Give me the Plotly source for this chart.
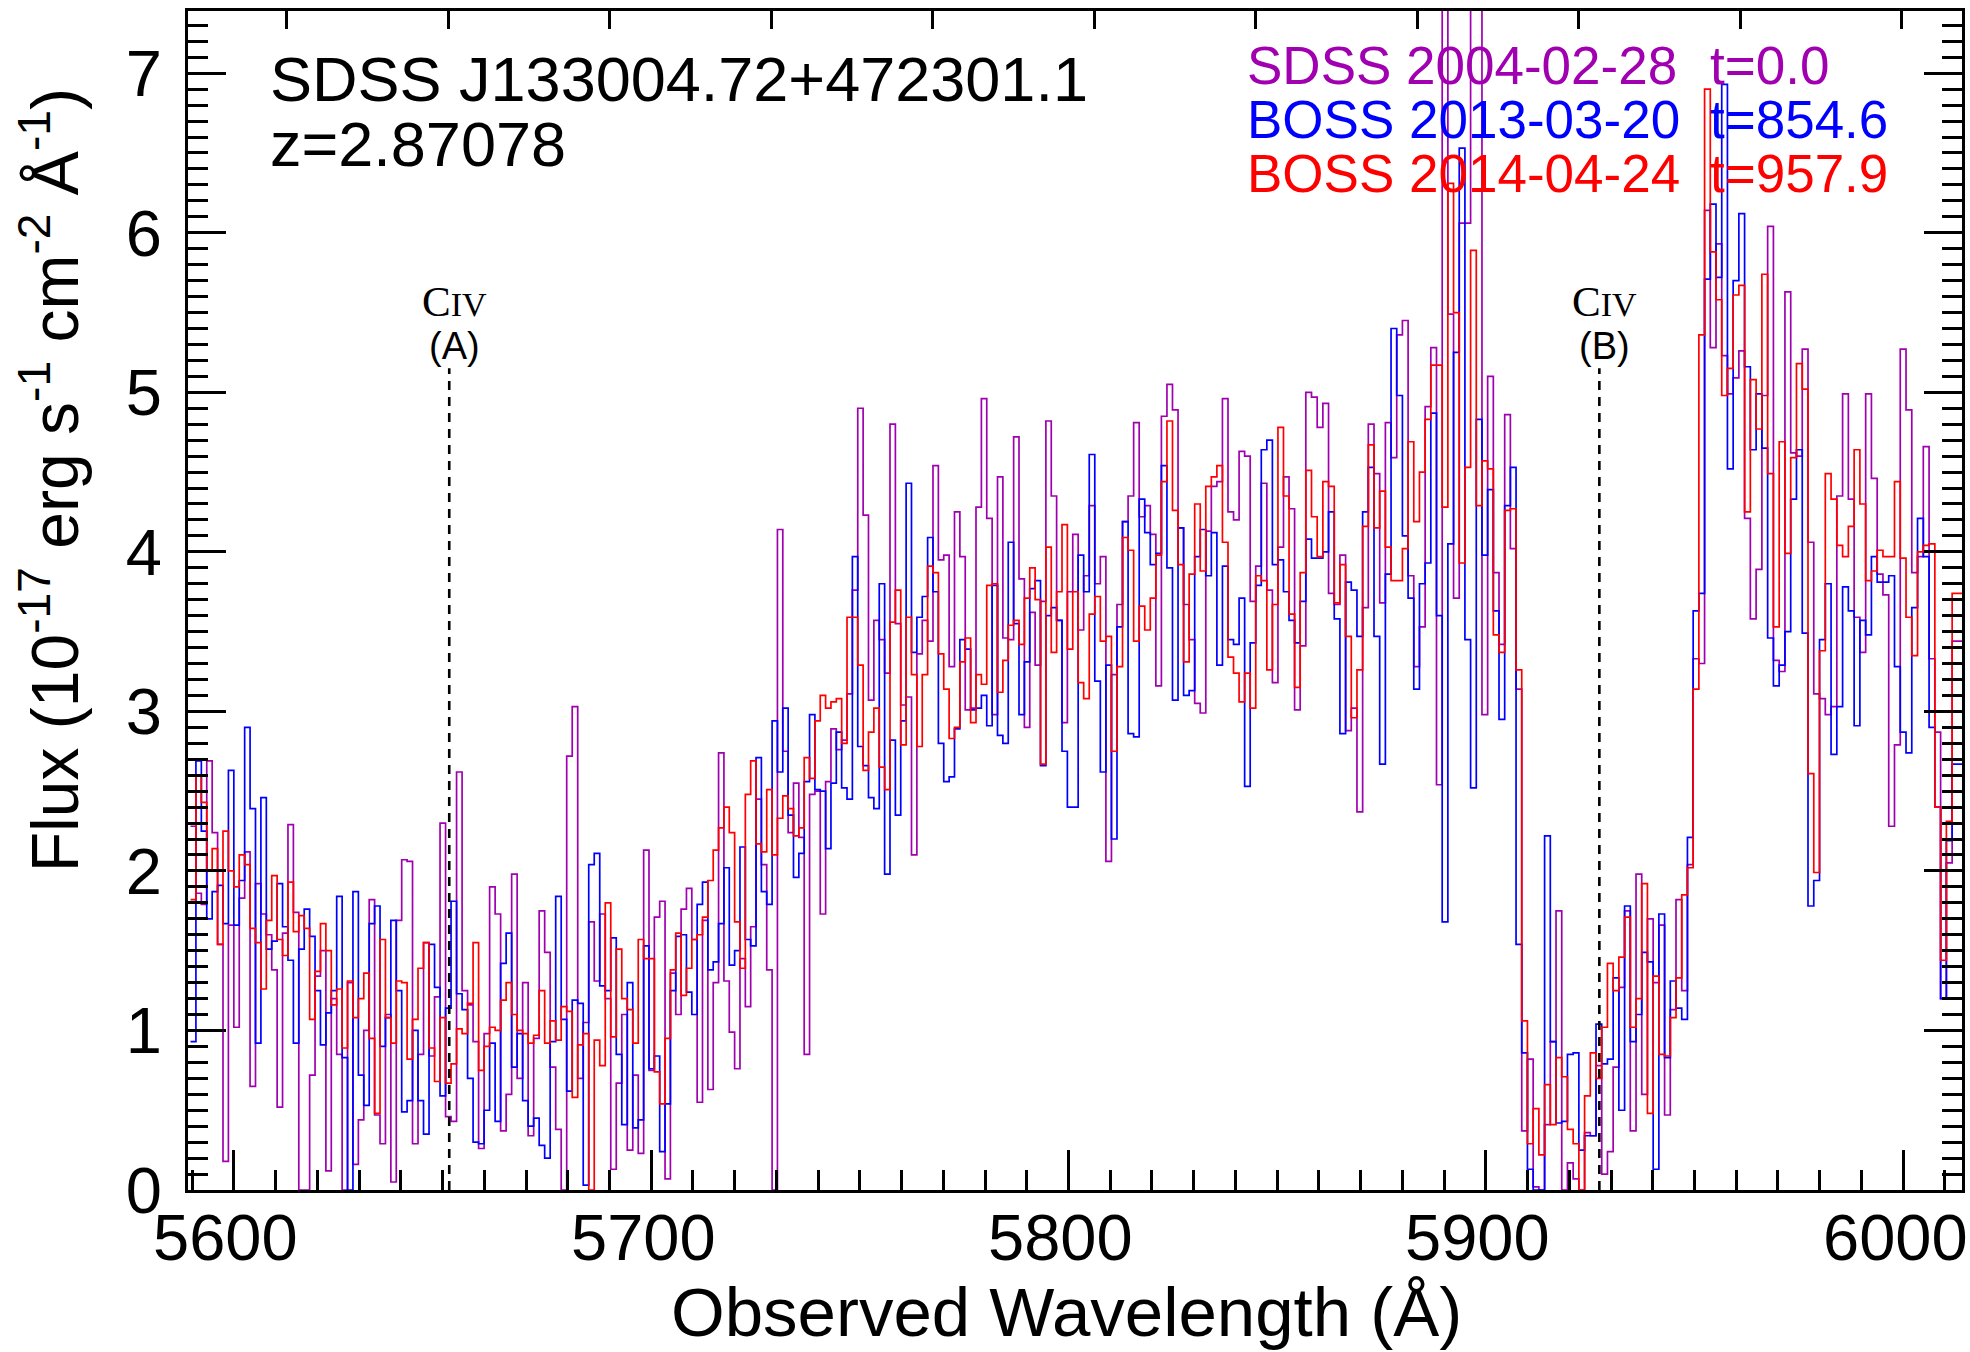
import plotly.graph_objects as go

# ---------------- data ----------------
Z_QSO = 2.87078
X_RANGE = [5589.0, 6014.1]
Y_RANGE = [0.0, 7.39]
X_TICKS = [5600, 5700, 5800, 5900, 6000]
STRIP_EDGES = [5589.6, 5642.8, 5696.9, 5748.2, 5802.3, 5855.5, 5908.6, 5962.0, 6014.5]

SDSS_2004 = [
    [2.28, 1.86, 1.79, 2.69, 2.24, 1.54, 0.18, 1.66, 1.02, 1.83, 2.12, 0.65, 1.92, 1.73, 1.6, 1.38, 0.52, 1.61, 2.29, 1.74, 0.0, 0.0, 0.72, 1.34, 1.5, 0.12, 1.2, 0.85, 0.0, 1.3, 0.16, 0.44, 1.0, 1.82, 0.47, 0.29, 1.1, 0.05, 1.69, 2.07, 2.06],
    [0.29, 0.85, 1.55, 0.84, 1.21, 2.3, 0.46, 0.43, 2.62, 1.25, 1.16, 0.93, 0.26, 0.98, 1.9, 1.73, 0.37, 0.6, 1.98, 0.7, 1.3, 0.34, 0.95, 1.75, 1.49, 0.77, 0.38, 0.0, 2.72, 3.03, 0.7, 1.05, 1.68, 1.31, 1.73, 1.2, 0.13, 0.67, 1.1, 0.25, 0.72],
    [0.23, 2.13, 0.75, 1.71, 1.81, 0.07, 1.36, 1.1, 1.76, 1.89, 1.57, 0.55, 1.69, 0.63, 1.3, 2.74, 1.31, 0.99, 0.76, 1.45, 1.15, 1.65, 2.45, 2.04, 1.38, 0.0, 4.14, 2.75, 2.24, 2.55, 2.21, 0.85, 2.48, 2.5, 1.73, 2.56, 2.89, 2.76, 2.82, 3.11],
    [3.76, 4.9, 4.23, 3.07, 3.57, 3.45, 3.24, 4.8, 3.55, 3.04, 3.09, 2.1, 3.36, 3.57, 3.44, 4.54, 3.95, 3.98, 3.28, 4.25, 3.97, 3.01, 3.02, 4.28, 4.96, 4.21, 2.98, 4.47, 3.46, 3.45, 4.72, 3.83, 2.9, 3.62, 3.29, 3.69, 4.82, 4.35, 3.57, 2.93, 3.75, 4.11],
    [3.51, 3.85, 4.29, 3.8, 3.97, 2.06, 3.23, 3.67, 4.19, 4.35, 4.81, 4.22, 4.29, 4.11, 3.16, 4.85, 5.05, 4.89, 4.15, 3.67, 3.45, 3.05, 2.99, 4.13, 4.41, 4.44, 4.96, 4.25, 4.2, 4.63, 4.6, 3.69, 3.91, 4.43, 3.76, 3.18, 4.03, 4.47, 4.27, 3.01],
    [3.41, 5.0, 4.97, 4.78, 4.93, 3.74, 3.67, 3.98, 2.88, 3.02, 2.37, 3.65, 4.8, 4.49, 3.68, 4.81, 4.59, 5.36, 5.45, 3.85, 3.28, 3.53, 4.91, 5.28, 2.54, 9.5, 5.49, 3.71, 6.06, 6.06, 9.5, 9.5, 2.98, 5.1, 3.87, 3.42, 4.86, 4.02, 3.14],
    [0.37, 0.82, 0.02, 0.0, 0.41, 0.93, 1.75, 0.0, 0.17, 0.07, 0.0, 0.36, 0.34, 0.78, 0.1, 0.24, 0.77, 1.27, 1.75, 0.37, 1.98, 0.6, 1.7, 1.3, 1.66, 0.47, 1.13, 1.82, 1.25, 2.04, 3.33, 3.3, 6.14, 5.28, 5.93, 5.23, 4.99, 5.09, 5.26],
    [4.21, 3.58, 3.89, 4.98, 6.04, 3.32, 3.25, 5.63, 4.62, 4.6, 5.27, 4.06, 3.11, 3.08, 2.98, 3.03, 4.35, 4.99, 4.33, 3.59, 3.37, 4.99, 4.46, 3.86, 3.73, 2.28, 2.79, 5.27, 4.89, 3.87, 3.97, 4.66, 3.33, 2.87, 1.2, 2.05, 3.44, 3.44],
]

BOSS_2013 = [
    [0.93, 2.69, 2.25, 1.7, 1.87, 1.91, 1.67, 2.63, 1.66, 1.94, 2.9, 2.39, 0.92, 2.46, 1.51, 1.56, 1.92, 1.65, 1.44, 0.92, 1.51, 1.76, 1.59, 1.25, 0.91, 1.11, 1.25, 1.84, 0.83, 0.0, 1.87, 0.72, 0.53, 1.67, 1.78, 0.9, 1.08, 1.69, 1.25, 0.49, 0.56],
    [1.0, 0.56, 0.35, 1.54, 1.27, 0.59, 1.14, 1.81, 1.23, 1.13, 0.7, 0.3, 0.29, 0.5, 0.92, 0.43, 1.42, 1.61, 0.77, 0.98, 0.56, 0.4, 0.45, 0.28, 0.2, 0.93, 1.84, 1.07, 0.62, 1.19, 1.17, 0.03, 2.04, 2.11, 1.28, 1.25, 1.58, 0.85, 0.41, 1.3, 0.39],
    [0.44, 1.53, 0.76, 0.84, 0.24, 0.54, 1.25, 1.59, 1.6, 1.24, 1.1, 1.79, 1.93, 1.38, 1.43, 1.67, 2.02, 1.41, 1.5, 2.15, 1.57, 1.53, 2.71, 1.87, 1.79, 2.94, 2.62, 3.02, 2.35, 1.96, 2.11, 2.56, 2.98, 2.51, 2.5, 2.14, 2.55, 2.87, 2.52, 2.45],
    [3.97, 2.78, 2.66, 2.46, 2.39, 3.8, 1.98, 2.82, 2.35, 2.94, 4.43, 3.37, 3.59, 3.72, 4.09, 3.75, 2.8, 2.56, 2.59, 2.89, 3.45, 3.39, 3.01, 3.02, 3.1, 2.91, 3.79, 2.85, 2.8, 4.06, 3.55, 2.98, 3.31, 3.77, 3.82, 2.66, 3.6, 3.65, 3.57, 2.75, 2.4, 2.4],
    [3.98, 3.75, 4.61, 3.19, 2.62, 3.29, 2.2, 3.53, 4.19, 2.86, 2.84, 4.33, 4.12, 3.92, 3.99, 4.54, 3.9, 3.07, 4.15, 3.1, 3.13, 3.97, 4.14, 3.85, 4.12, 3.29, 3.91, 3.45, 3.42, 3.71, 2.53, 3.43, 3.79, 4.64, 4.7, 3.92, 3.95, 3.75, 3.57, 3.43],
    [3.69, 4.08, 3.96, 3.96, 4.0, 4.25, 3.58, 2.86, 3.81, 3.76, 3.47, 4.25, 4.53, 3.47, 2.67, 3.86, 5.4, 4.98, 4.1, 3.71, 3.14, 3.8, 3.93, 4.87, 3.6, 1.68, 4.05, 5.25, 6.53, 3.45, 2.52, 4.83, 3.98, 4.39, 3.63, 2.95, 4.29, 4.53, 1.54],
    [0.86, 0.13, 0.0, 0.0, 2.22, 0.93, 0.42, 0.43, 0.85, 0.86, 0.25, 0.34, 0.34, 1.04, 0.79, 0.82, 1.33, 0.5, 1.78, 0.93, 1.1, 1.49, 1.43, 0.13, 1.73, 0.83, 1.31, 1.14, 1.07, 2.21, 3.63, 3.74, 5.71, 6.18, 5.72, 6.93, 4.52, 5.7, 6.12],
    [5.16, 4.64, 4.99, 4.65, 3.46, 3.16, 3.29, 3.5, 4.33, 4.64, 3.49, 1.78, 1.94, 3.45, 3.8, 2.73, 3.03, 3.78, 3.63, 2.91, 3.57, 3.48, 3.97, 3.81, 3.81, 3.85, 3.28, 2.87, 2.74, 3.65, 4.21, 3.97, 2.9, 2.4, 1.2, 2.19, 2.67, 2.67],
]

BOSS_2014 = [
    [1.82, 2.6, 2.43, 2.0, 2.14, 1.54, 2.25, 2.0, 1.9, 2.1, 2.04, 1.64, 1.55, 1.26, 1.69, 1.97, 1.57, 1.47, 1.93, 1.62, 1.72, 1.64, 1.07, 1.37, 1.67, 1.5, 1.16, 1.26, 0.89, 1.31, 1.08, 1.2, 1.36, 0.95, 0.48, 1.57, 1.08, 0.92, 1.31, 1.3, 0.82],
    [1.07, 1.39, 1.55, 0.89, 0.68, 1.08, 0.67, 0.79, 1.01, 0.98, 1.17, 1.55, 0.75, 0.9, 1.02, 1.0, 1.19, 1.3, 1.1, 1.0, 0.98, 0.92, 0.97, 1.25, 0.92, 1.06, 0.94, 1.15, 1.12, 0.58, 0.91, 0.98, 0.0, 0.94, 0.78, 1.8, 0.96, 1.51, 1.2, 1.13, 0.92],
    [1.57, 1.45, 1.45, 0.74, 0.54, 0.95, 1.38, 1.61, 1.22, 1.39, 1.57, 1.6, 1.71, 1.94, 2.13, 2.27, 2.4, 2.24, 1.68, 1.39, 2.48, 2.69, 2.17, 2.12, 2.51, 2.1, 2.33, 2.47, 2.39, 2.22, 2.27, 2.71, 2.58, 2.94, 3.1, 3.02, 3.06, 3.08, 2.8, 3.59],
    [3.59, 3.29, 2.63, 2.87, 3.02, 2.65, 2.51, 3.56, 3.76, 2.79, 3.59, 3.23, 2.78, 3.23, 3.91, 3.87, 3.36, 3.14, 2.83, 2.9, 3.31, 3.46, 2.93, 3.23, 3.17, 3.79, 3.8, 3.12, 3.32, 3.54, 3.57, 3.42, 3.71, 3.9, 3.7, 2.67, 4.03, 3.37, 3.75, 4.17, 3.39, 3.75],
    [3.18, 3.08, 3.61, 3.72, 3.44, 3.47, 2.75, 3.28, 4.09, 4.01, 3.44, 3.66, 3.51, 3.71, 3.98, 4.44, 4.82, 4.26, 3.92, 3.31, 3.86, 4.3, 3.88, 4.41, 4.47, 4.54, 4.06, 3.34, 3.24, 3.06, 3.24, 3.02, 3.85, 3.82, 3.26, 3.67, 4.78, 4.35, 3.61, 3.15],
    [3.87, 4.51, 4.22, 3.97, 4.44, 4.41, 3.68, 3.92, 3.47, 2.96, 3.26, 4.16, 4.67, 4.15, 4.38, 4.03, 3.82, 3.82, 4.02, 4.69, 4.19, 4.5, 4.83, 5.17, 5.17, 4.28, 6.31, 5.5, 3.93, 4.53, 5.89, 4.29, 4.57, 4.52, 3.48, 3.37, 4.26, 4.27, 3.26],
    [1.06, 0.29, 0.51, 0.22, 0.66, 0.41, 0.83, 0.71, 0.38, 0.29, 0.0, 0.59, 0.86, 0.7, 1.02, 1.42, 1.25, 1.46, 1.71, 1.02, 1.2, 1.92, 0.48, 1.34, 0.85, 0.84, 1.08, 1.33, 1.85, 2.02, 3.14, 5.36, 6.9, 5.88, 5.58, 4.98, 5.15, 5.61, 5.67],
    [4.25, 5.08, 4.77, 5.74, 4.49, 3.53, 4.69, 3.99, 4.59, 5.18, 5.02, 2.61, 1.99, 3.38, 4.49, 4.33, 4.04, 3.97, 4.16, 4.64, 4.3, 3.82, 3.88, 4.01, 3.97, 3.97, 4.44, 3.96, 3.59, 3.35, 4.0, 4.04, 4.05, 2.4, 1.44, 2.31, 3.74, 3.74],
]

SERIES_NAMES = ["SDSS 2004-02-28", "BOSS 2013-03-20", "BOSS 2014-04-24"]
SERIES_TIMES = ["t=0.0", "t=854.6", "t=957.9"]
SERIES_COLORS = ["rgb(160,0,176)", "rgb(0,0,255)", "rgb(255,0,0)"]

CIV_LINES = [5651.6, 5927.2]
CIV_TAGS = ["(A)", "(B)"]
CIV_LINE_TOP = 5.15

TITLE = "SDSS J133004.72+472301.1"
REDSHIFT_TEXT = "z=2.87078"

# ---------------- figure ----------------
W, H = 1970, 1352
ML, MR, MT, MB = 188, 5, 11, 162
PW, PH = W - ML - MR, H - MT - MB
SANS = "Liberation Sans, Arial, Helvetica, sans-serif"
SERIF = "Liberation Serif, Times New Roman, serif"


def px(xp):
    return (xp - ML) / PW


def py(yp):
    return (H - MB - yp) / PH


def steps(strips):
    xs, ys = [], []
    for k, vals in enumerate(strips):
        a, b = STRIP_EDGES[k], STRIP_EDGES[k + 1]
        n = len(vals)
        xs += [a + (b - a) * (i + 0.5) / n for i in range(n)]
        ys += list(vals)
    # extend the outer half-bins to the strip edges
    xs = [STRIP_EDGES[0]] + xs + [STRIP_EDGES[-1]]
    ys = [ys[0]] + ys + [ys[-1]]
    return xs, ys


fig = go.Figure()
for data, name, col in zip([SDSS_2004, BOSS_2013, BOSS_2014], SERIES_NAMES, SERIES_COLORS):
    xs, ys = steps(data)
    fig.add_trace(go.Scatter(x=xs, y=ys, mode="lines", line=dict(color=col, width=1.7, shape="hvh"),
                             name=name, showlegend=False, hoverinfo="skip"))

# CIV markers
for lam in CIV_LINES:
    fig.add_trace(go.Scatter(x=[lam, lam], y=[0, CIV_LINE_TOP], mode="lines",
                             line=dict(color="black", width=2.6, dash="9px,7px"),
                             showlegend=False, hoverinfo="skip"))

# dummy trace for the rest-frame top axis
fig.add_trace(go.Scatter(x=[X_RANGE[0] / (1 + Z_QSO)], y=[-10], mode="markers", marker=dict(opacity=0),
                         xaxis="x2", yaxis="y", showlegend=False, hoverinfo="skip"))

ann = []
ann.append(dict(text=TITLE, x=px(268), y=py(101 - 22), xref="paper", yref="paper", xanchor="left",
                yanchor="middle", showarrow=False, font=dict(family=SANS, size=63, color="black")))
ann.append(dict(text=REDSHIFT_TEXT, x=px(268), y=py(166 - 22), xref="paper", yref="paper", xanchor="left",
                yanchor="middle", showarrow=False, font=dict(family=SANS, size=63, color="black")))
for i, (name, t, col) in enumerate(zip(SERIES_NAMES, SERIES_TIMES, SERIES_COLORS)):
    base = 84 + 54 * i
    ann.append(dict(text=name, x=px(1247), y=py(base - 18.5), xref="paper", yref="paper", xanchor="left",
                    yanchor="middle", showarrow=False, font=dict(family=SANS, size=53, color=col)))
    ann.append(dict(text=t, x=px(1711), y=py(base - 18.5), xref="paper", yref="paper", xanchor="left",
                    yanchor="middle", showarrow=False, font=dict(family=SANS, size=53, color=col)))
for lam, tag in zip(CIV_LINES, CIV_TAGS):
    ann.append(dict(text="C<span style='font-size:34px'>IV</span>", x=lam, xref="x", xshift=5,
                    y=py(315 - 14), yref="paper", xanchor="center", yanchor="middle", showarrow=False,
                    font=dict(family=SERIF, size=43, color="black")))
    ann.append(dict(text=tag, x=lam, xref="x", xshift=5, y=py(359 - 13), yref="paper", xanchor="center",
                    yanchor="middle", showarrow=False, font=dict(family=SANS, size=38, color="black")))
# bottom tick labels (drawn slightly left of the ticks, as in the original)
for tv in X_TICKS:
    ann.append(dict(text=str(tv), x=tv, xref="x", xshift=-8, y=py(1260 - 23), yref="paper",
                    xanchor="center", yanchor="middle", showarrow=False,
                    font=dict(family=SANS, size=65, color="black")))
# axis titles
ann.append(dict(text="Observed Wavelength (Å)", x=px(1068), y=py(1336 - 24), xref="paper", yref="paper",
                xanchor="center", yanchor="middle", showarrow=False, font=dict(family=SANS, size=69, color="black")))
ann.append(dict(text="Flux (10<sup>-17</sup> erg s<sup>-1</sup> cm<sup>-2</sup> Å<sup>-1</sup>)",
                x=px(50), y=py(480), xref="paper", yref="paper", xanchor="center", yanchor="middle",
                textangle=-90, showarrow=False, font=dict(family=SANS, size=66, color="black")))

axis_common = dict(showgrid=False, zeroline=False, showline=True, linecolor="black", linewidth=3,
                   ticks="inside", tickcolor="black", tickwidth=3,
                   tickfont=dict(family=SANS, size=65, color="black"))

fig.update_layout(
    width=W, height=H, margin=dict(l=ML, r=MR, t=MT, b=MB, pad=0),
    paper_bgcolor="white", plot_bgcolor="white", showlegend=False,
    annotations=ann,
    xaxis=dict(range=X_RANGE, tickmode="linear", tick0=5600, dtick=100, ticklen=40, mirror=True,
               minor=dict(dtick=10, tick0=5600, ticklen=20, tickwidth=3, tickcolor="black", ticks="inside"),
               showticklabels=False, **axis_common),
    xaxis2=dict(range=[X_RANGE[0] / (1 + Z_QSO), X_RANGE[1] / (1 + Z_QSO)], overlaying="x", side="top",
                anchor="y", tickmode="linear", tick0=1400, dtick=10, ticklen=18, showticklabels=False,
                showgrid=False, zeroline=False, showline=False, ticks="inside", tickcolor="black", tickwidth=3),
    yaxis=dict(range=Y_RANGE, tickmode="linear", tick0=0, dtick=1, ticklen=38, mirror="ticks",
               minor=dict(dtick=0.1, tick0=0, ticklen=20, tickwidth=3, tickcolor="black", ticks="inside"),
               ticklabelstandoff=10, **axis_common),
)

fig.write_html("out.html", config={"displayModeBar": False},
               post_script="document.body.style.margin='0';document.body.style.overflow='hidden';")
